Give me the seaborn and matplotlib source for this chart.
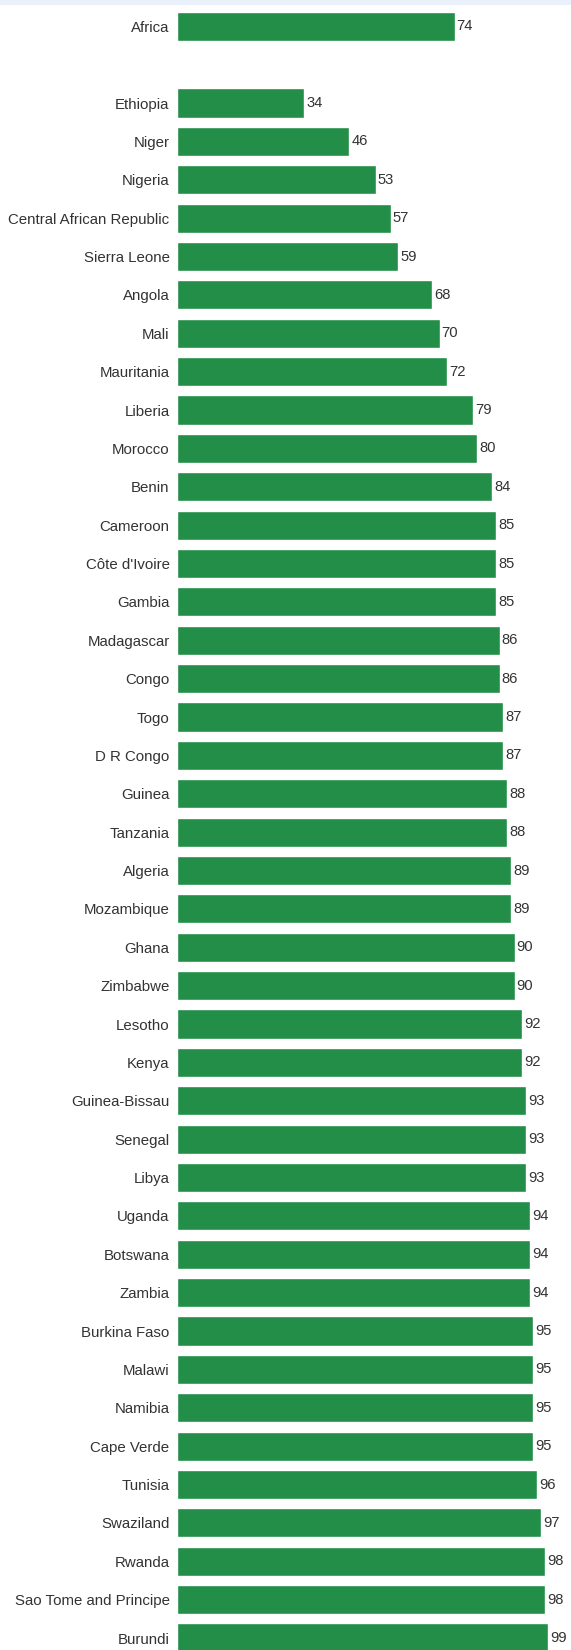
import pandas as pd
import matplotlib.pyplot as plt
import seaborn as sns
from matplotlib.patches import Rectangle

# ==================== DATA ====================
regions = ['Africa']
region_values = [74]

countries = [
    'Ethiopia', 'Niger', 'Nigeria', 'Central African Republic', 'Sierra Leone',
    'Angola', 'Mali', 'Mauritania', 'Liberia', 'Morocco', 'Benin', 'Cameroon',
    "Côte d'Ivoire", 'Gambia', 'Madagascar', 'Congo', 'Togo', 'D R Congo',
    'Guinea', 'Tanzania', 'Algeria', 'Mozambique', 'Ghana', 'Zimbabwe',
    'Lesotho', 'Kenya', 'Guinea-Bissau', 'Senegal', 'Libya', 'Uganda',
    'Botswana', 'Zambia', 'Burkina Faso', 'Malawi', 'Namibia', 'Cape Verde',
    'Tunisia', 'Swaziland', 'Rwanda', 'Sao Tome and Principe', 'Burundi',
]
country_values = [
    34, 46, 53, 57, 59,
    68, 70, 72, 79, 80, 84, 85,
    85, 85, 86, 86, 87, 87,
    88, 88, 89, 89, 90, 90,
    92, 92, 93, 93, 93, 94,
    94, 94, 95, 95, 95, 95,
    96, 97, 98, 98, 99,
]
# ==============================================

bar_color = '#228E47'
text_color = '#333333'

df = pd.DataFrame({
    'label': regions + countries,
    'value': region_values + country_values,
})
order = regions + [' '] + countries  # empty slot between region and countries

sns.set_style('white')
plt.rcParams['font.family'] = ['Liberation Sans', 'DejaVu Sans']

W, H = 571, 1650
fig = plt.figure(figsize=(W / 100, H / 100), dpi=100)
left_px = 176.5
ax = fig.add_axes([left_px / W, 0, (W - left_px) / W, 1])

sns.barplot(data=df, y='label', x='value', order=order, orient='h',
            color=bar_color, saturation=1, width=0.76, ax=ax)

for c in ax.containers:
    ax.bar_label(c, fmt='%g', padding=1.5, fontsize=10.6, color=text_color)

# row spacing ~38.4 px, first row centre ~26 px from the top
step = (1638 - 26.3) / 42
ax.set_ylim(42 + (H - 1638) / step, -26.3 / step)
ax.set_xlim(0, 105)

ax.set_xlabel('')
ax.set_ylabel('')
ax.set_xticks([])
ax.tick_params(axis='y', length=0, pad=5, labelsize=10.8, labelcolor=text_color)
sns.despine(ax=ax, left=True, bottom=True, top=True, right=True)

# light header strip at the very top (cropped title area)
fig.patches.append(Rectangle((0, 1 - 5 / H), 1, 5 / H, transform=fig.transFigure,
                             facecolor='#EAF1FA', edgecolor='none', zorder=0))

fig.savefig('out.png', dpi=100)
